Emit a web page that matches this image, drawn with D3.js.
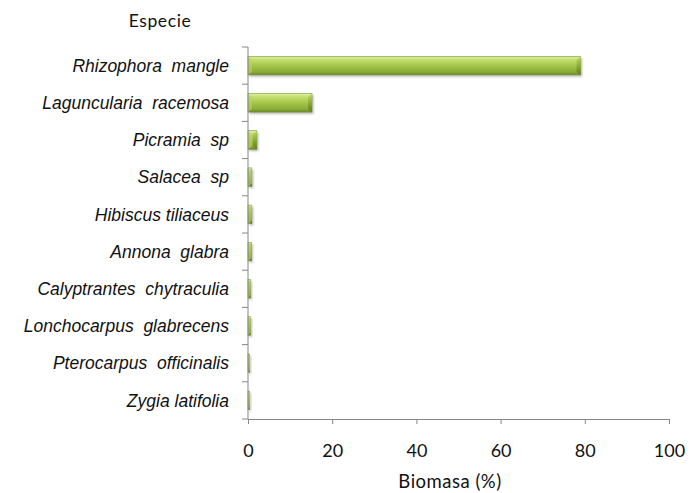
<!DOCTYPE html>
<html>
<head>
<meta charset="utf-8">
<script src="https://cdn.jsdelivr.net/npm/d3@7"></script>
<style>
  html, body { margin: 0; padding: 0; background: #fff; }
  svg { display: block; }
</style>
</head>
<body>
<svg id="chart" width="698" height="493"></svg>
<script>
// Species, top to bottom
const species = [
  "Rhizophora  mangle",
  "Laguncularia  racemosa",
  "Picramia  sp",
  "Salacea  sp",
  "Hibiscus tiliaceus",
  "Annona  glabra",
  "Calyptrantes  chytraculia",
  "Lonchocarpus  glabrecens",
  "Pterocarpus  officinalis",
  "Zygia latifolia"
];
// Biomass share per species (%)
const biomass = [79, 15.2, 2.1, 0.9, 0.9, 0.8, 0.6, 0.6, 0.4, 0.4];
const xTicks = [0, 20, 40, 60, 80, 100];

const svg = d3.select("#chart");
const margin = { left: 248, right: 29, top: 47, bottom: 74 };
const W = 698, H = 493;

const x = d3.scaleLinear().domain([0, 100]).range([margin.left, W - margin.right]);
const y = d3.scaleBand().domain(species).range([margin.top, H - margin.bottom])
  .paddingInner(0.5).paddingOuter(0.25);

const defs = svg.append("defs");
const grad = defs.append("linearGradient").attr("id", "barGrad")
  .attr("x1", 0).attr("y1", 0).attr("x2", 0).attr("y2", 1);
[["0%", "#e0f0a6"], ["18%", "#c4df6e"], ["50%", "#a5c64a"], ["85%", "#89aa36"], ["100%", "#6a8728"]]
  .forEach(([o, c]) => grad.append("stop").attr("offset", o).attr("stop-color", c));
const capGrad = defs.append("linearGradient").attr("id", "capGrad")
  .attr("x1", 0).attr("y1", 0).attr("x2", 0).attr("y2", 1);
[["0%", "#bcd76e"], ["50%", "#88a836"], ["100%", "#5a7520"]]
  .forEach(([o, c]) => capGrad.append("stop").attr("offset", o).attr("stop-color", c));
const blur = defs.append("filter").attr("id", "shadow")
  .attr("x", "-20%").attr("y", "-50%").attr("width", "140%").attr("height", "200%");
blur.append("feGaussianBlur").attr("stdDeviation", 1.3);

// Bars
const bars = svg.append("g").selectAll("g").data(species).join("g");
const bh = y.bandwidth();
bars.append("rect")
  .attr("x", x(0) + 1.5).attr("y", (d) => y(d) + 1.8)
  .attr("width", (d, i) => Math.max(1, x(biomass[i]) - x(0)))
  .attr("height", bh)
  .attr("fill", "#000").attr("opacity", 0.28).attr("filter", "url(#shadow)");
bars.append("rect")
  .attr("x", x(0)).attr("y", (d) => y(d))
  .attr("width", (d, i) => x(biomass[i]) - x(0))
  .attr("height", bh)
  .attr("fill", "url(#barGrad)")
  .attr("stroke", "#7a963a").attr("stroke-width", 0.6);
// bevelled right end
bars.append("path")
  .attr("d", (d, i) => {
    const x1 = x(biomass[i]), x0 = Math.max(x(0), x1 - 4);
    const t = y(d), b = y(d) + bh;
    return `M${x0},${t + 4}L${x1},${t}L${x1},${b}L${x0},${b - 3}Z`;
  })
  .attr("fill", "url(#capGrad)").attr("opacity", 0.85);
// bevelled left end
bars.append("path")
  .attr("d", (d, i) => {
    const x0 = x(0), x1 = Math.min(x(biomass[i]), x0 + 4);
    const t = y(d), b = y(d) + bh;
    return `M${x0},${t}L${x1},${t + 4}L${x1},${b - 3}L${x0},${b}Z`;
  })
  .attr("fill", "#b7d264").attr("opacity", 0.6);

// Y axis
const yAxis = svg.append("g").attr("transform", `translate(${x(0)},0)`);
yAxis.append("line").attr("x1", 0).attr("x2", 0)
  .attr("y1", margin.top).attr("y2", H - margin.bottom).attr("stroke", "#868686");
const bounds = d3.range(species.length + 1).map((i) => margin.top + i * ((H - margin.bottom - margin.top) / species.length));
yAxis.selectAll(".yt").data(bounds).join("line")
  .attr("x1", -6).attr("x2", 0).attr("y1", (d) => d).attr("y2", (d) => d)
  .attr("stroke", "#868686");
yAxis.selectAll(".yl").data(species).join("text")
  .attr("x", -19).attr("y", (d) => y(d) + bh / 2)
  .attr("dy", "0.35em").attr("text-anchor", "end")
  .style("font-family", "'Liberation Sans', Arial, sans-serif")
  .style("font-style", "italic").style("font-size", "17.5px")
  .style("white-space", "pre").attr("xml:space", "preserve")
  .attr("fill", "#111").text((d) => d);

// X axis
const xAxis = svg.append("g").attr("transform", `translate(0,${H - margin.bottom})`)
  .call(d3.axisBottom(x).tickValues(xTicks).tickSize(5).tickSizeOuter(0).tickPadding(20));
xAxis.select(".domain").attr("stroke", "#868686");
xAxis.selectAll(".tick line").attr("stroke", "#868686");
xAxis.selectAll(".tick text")
  .style("font-family", "Lato, 'Open Sans', sans-serif").style("font-size", "18px")
  .attr("fill", "#111");

// Titles
svg.append("text").attr("x", 160).attr("y", 27).attr("text-anchor", "middle")
  .style("font-family", "Lato, 'Open Sans', sans-serif").style("font-size", "17.5px")
  .style("letter-spacing", "0.6px").attr("fill", "#111").text("Especie");
svg.append("text").attr("x", 450).attr("y", 488).attr("text-anchor", "middle")
  .style("font-family", "Lato, 'Open Sans', sans-serif").style("font-size", "18.5px")
  .style("letter-spacing", "0.5px").attr("fill", "#111").text("Biomasa (%)");
</script>
</body>
</html>
